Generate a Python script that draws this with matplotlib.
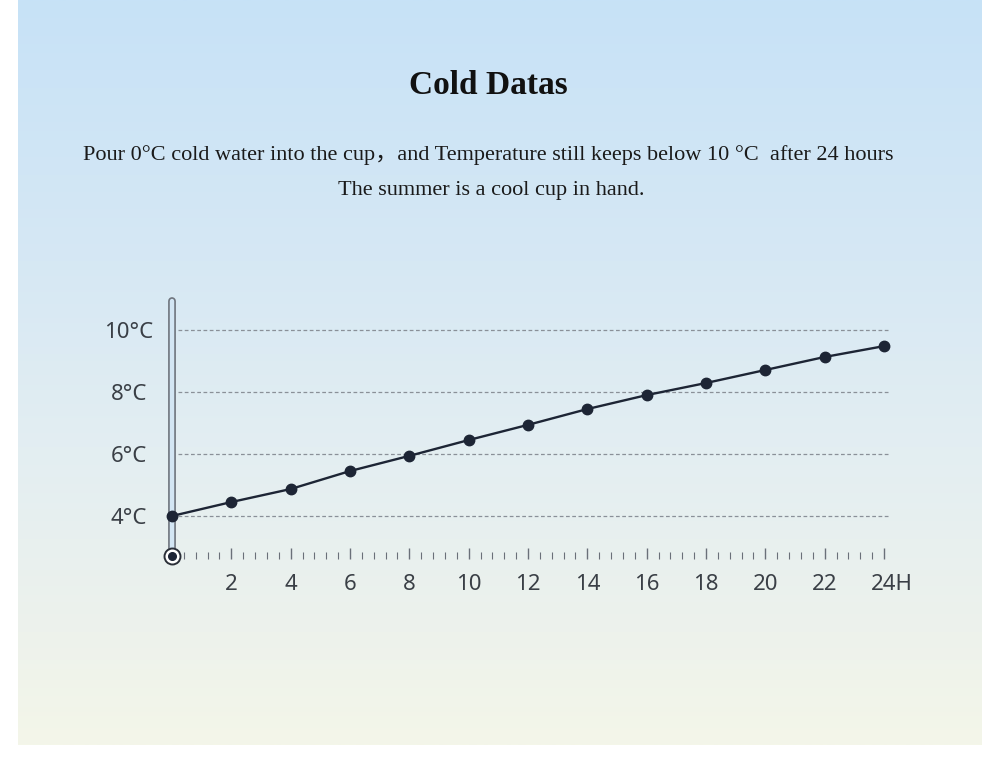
import numpy as np
import matplotlib
matplotlib.use("Agg")
import matplotlib.pyplot as plt
from matplotlib.colors import LinearSegmentedColormap

# ---- data ----
hours = [0, 2, 4, 6, 8, 10, 12, 14, 16, 18, 20, 22, 24]
temps = [4.0, 4.45, 4.87, 5.45, 5.94, 6.45, 6.94, 7.45, 7.9, 8.29, 8.71, 9.13, 9.48]
y_ticks = [4, 6, 8, 10]
y_labels = ["4°C", "6°C", "8°C", "10°C"]
x_ticks = [2, 4, 6, 8, 10, 12, 14, 16, 18, 20, 22, 24]
x_labels = ["2", "4", "6", "8", "10", "12", "14", "16", "18", "20", "22", "24H"]
title = "Cold Datas"
line1 = "Pour 0°C cold water into the cup，and Temperature still keeps below 10 °C  after 24 hours"
line2 = "The summer is a cool cup in hand."

W, H = 1000, 765
fig = plt.figure(figsize=(W / 100, H / 100), dpi=100)
fig.patch.set_facecolor("white")

# background panel with vertical gradient (pixel coordinates)
bg = fig.add_axes([0, 0, 1, 1])
bg.set_xlim(0, W)
bg.set_ylim(H, 0)
bg.axis("off")
cmap = LinearSegmentedColormap.from_list(
    "bg", [(0.0, "#c7e2f7"), (0.35, "#d6e8f4"), (0.6, "#e3eef2"), (0.85, "#edf2ec"), (1.0, "#f4f6e9")])
grad = np.linspace(0, 1, 256).reshape(-1, 1)
bg.imshow(grad, cmap=cmap, extent=[18, 982, 745, 0], aspect="auto", zorder=0)

serif = ["Liberation Serif", "Noto Sans CJK SC", "DejaVu Serif"]
bg.text(488.5, 85, title, ha="center", va="center", fontsize=24, fontweight="bold",
        family=serif, color="#111111")
bg.text(488.5, 155, line1, ha="center", va="center", fontsize=16, family=serif, color="#1a1a1a")
bg.text(491, 190, line2, ha="center", va="center", fontsize=16, family=serif, color="#1a1a1a")

# data axes: hour 0 -> px 172, hour 24 -> px 884 ; 4°C -> px 516, 10°C -> px 330
x0, x1 = -1, 25
px_per_h = (884 - 172) / 24
left_px = 172 + (x0 - 0) * px_per_h
right_px = 172 + (x1 - 0) * px_per_h
y0, y1 = 2.0, 11.5
px_per_c = (516 - 330) / 6
bot_px = 516 + (4 - y0) * px_per_c
top_px = 516 - (y1 - 4) * px_per_c
ax = fig.add_axes([left_px / W, 1 - bot_px / H, (right_px - left_px) / W, (bot_px - top_px) / H])
ax.set_xlim(x0, x1)
ax.set_ylim(y0, y1)
ax.axis("off")
ax.patch.set_alpha(0)

def yv(px):
    return 4 - (px - 516) / px_per_c

# dashed grid lines
for t in y_ticks:
    ax.plot([0.2, 24.2], [t, t], color="#8a9098", lw=0.9, ls=(0, (3, 2)), zorder=1)

# thermometer tube
tube_top = yv(301)
tube_bot = yv(552)
ax.plot([0, 0], [tube_bot, tube_top], color="#6f757e", lw=5.6, solid_capstyle="round", zorder=2)
ax.plot([0, 0], [tube_bot, tube_top], color="#d3e6f4", lw=3.2, solid_capstyle="round", zorder=3)
# bulb
ybulb = yv(556)
ax.plot([0], [ybulb], marker="o", ms=11.5, mfc="white", mec="#2a2f38", mew=1.4, zorder=4)
ax.plot([0], [ybulb], marker="o", ms=5.5, mfc="#1d2535", mec="#1d2535", zorder=5)

# tick marks along the bottom
base = yv(559)
minor_top = yv(552)
major_top = yv(548)
n = int(round(24 / 0.4))
for i in range(1, n + 1):
    h = i * 0.4
    is_major = abs(h / 2 - round(h / 2)) < 1e-6
    ax.plot([h, h], [base, major_top if is_major else minor_top], color="#6a7079",
            lw=1.0 if is_major else 0.8, solid_capstyle="butt", zorder=2)

# data line
ax.plot(hours, temps, color="#1d2535", lw=1.7, marker="o", ms=7.5, mfc="#1d2535",
        mec="#1d2535", zorder=6, clip_on=False)

sans = ["Noto Sans", "DejaVu Sans"]
for t, lab in zip(y_ticks, y_labels):
    ax.text(-1.45, t - 0.08, lab, ha="center", va="center", fontsize=16, family=sans,
            fontweight="light", color="#3a3f46")
ylab = yv(585)
for t, lab in zip(x_ticks, x_labels):
    xx = t + (0.25 if lab.endswith("H") else 0)
    ax.text(xx, ylab, lab, ha="center", va="center", fontsize=16, family=sans,
            fontweight="light", color="#3a3f46")

fig.savefig("out.png", dpi=100)
